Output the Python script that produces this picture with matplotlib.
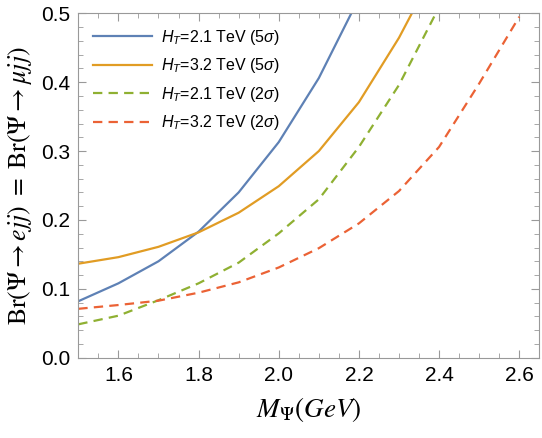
import numpy as np
import matplotlib
matplotlib.use("Agg")
import matplotlib.pyplot as plt
from matplotlib.ticker import MultipleLocator, FormatStrFormatter

# masses (GeV) and branching ratio limits
m_psi = [1.5, 1.6, 1.7, 1.8, 1.9, 2.0, 2.1, 2.2, 2.3, 2.4, 2.5, 2.6]
br_21_5s = [0.082, 0.108, 0.140, 0.183, 0.240, 0.313, 0.406, 0.522]
br_32_5s = [0.1365, 0.146, 0.161, 0.182, 0.2105, 0.249, 0.300, 0.371, 0.4645, 0.575]
br_21_2s = [0.0485, 0.061, 0.0835, 0.108, 0.138, 0.1805, 0.230, 0.306, 0.396, 0.509]
br_32_2s = [0.071, 0.0765, 0.0828, 0.0944, 0.1094, 0.131, 0.159, 0.195, 0.242, 0.306, 0.398, 0.495]

labels = [r"$H_T$=2.1 TeV (5$\sigma$)", r"$H_T$=3.2 TeV (5$\sigma$)",
          r"$H_T$=2.1 TeV (2$\sigma$)", r"$H_T$=3.2 TeV (2$\sigma$)"]

plt.rcParams['font.family'] = ['Liberation Sans', 'DejaVu Sans']
plt.rcParams['mathtext.fontset'] = 'custom'
plt.rcParams['mathtext.rm'] = 'Liberation Sans'
plt.rcParams['mathtext.it'] = 'Liberation Sans:italic'

fig = plt.figure(figsize=(5.42, 4.38), dpi=100)
ax = fig.add_axes([0.1445, 0.1833, 0.8505, 0.7863])

lw = 1.6
dash = (0, (4.2, 2.8))
ax.plot(m_psi[:len(br_21_5s)], br_21_5s, color='#5E81B5', lw=lw, label=labels[0])
ax.plot(m_psi[:len(br_32_5s)], br_32_5s, color='#E19C24', lw=lw, label=labels[1])
ax.plot(m_psi[:len(br_21_2s)], br_21_2s, color='#8FB032', lw=lw, ls=dash, label=labels[2])
ax.plot(m_psi[:len(br_32_2s)], br_32_2s, color='#EB6235', lw=lw, ls=dash, label=labels[3])

ax.set_xlim(1.5, 2.65)
ax.set_ylim(0, 0.5)
ax.xaxis.set_major_locator(MultipleLocator(0.2))
ax.xaxis.set_minor_locator(MultipleLocator(0.05))
ax.yaxis.set_major_locator(MultipleLocator(0.1))
ax.yaxis.set_minor_locator(MultipleLocator(0.02))
ax.xaxis.set_major_formatter(FormatStrFormatter('%.1f'))
ax.yaxis.set_major_formatter(FormatStrFormatter('%.1f'))
ax.tick_params(which='both', direction='in', top=True, right=True, color='#999999',
               labelsize=15, labelcolor='black')
ax.tick_params(which='major', length=6, width=0.8, pad=6)
ax.tick_params(which='minor', length=3.5, width=0.6)
for s in ax.spines.values():
    s.set_color('#999999')
    s.set_linewidth(0.8)

ax.set_xlabel(r"$M_\Psi(GeV)$", fontsize=19.5, math_fontfamily='stix', labelpad=7)
ax.set_ylabel(r"$\mathrm{Br}(\Psi\rightarrow ejj)\ =\ \mathrm{Br}(\Psi\rightarrow \mu jj)$",
              fontsize=18.5, math_fontfamily='stix', labelpad=5)

ax.legend(loc='upper left', frameon=False, fontsize=11.5, handlelength=3.7,
          handletextpad=0.6, labelspacing=0.6, borderaxespad=0.5)

fig.savefig('out.png', dpi=100)
